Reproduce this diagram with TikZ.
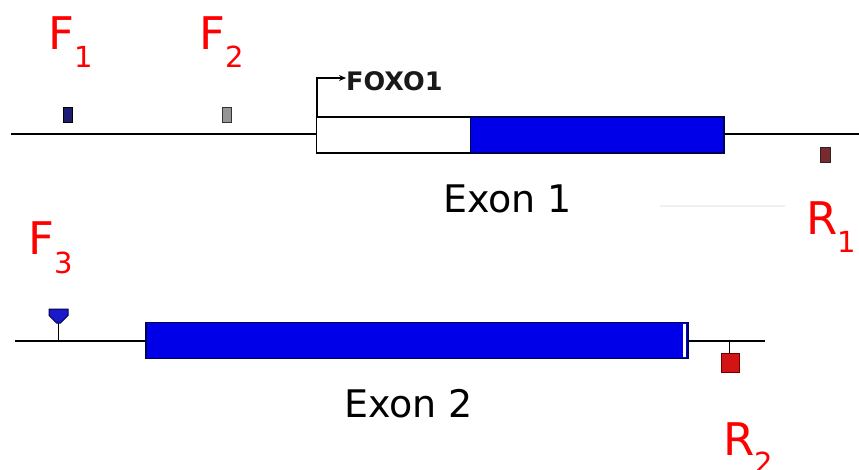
\documentclass[tikz,border=0pt]{standalone}
\usepackage{fontspec}
\setmainfont{DejaVu Sans}
\usetikzlibrary{arrows.meta}
\definecolor{exonblue}{HTML}{0000E8}
\definecolor{exonedge}{HTML}{000050}
\definecolor{fone}{HTML}{1C1C70}
\definecolor{ftwo}{HTML}{959595}
\definecolor{rone}{HTML}{7A2A2E}
\definecolor{fthree}{HTML}{1A1AC8}
\definecolor{rtwo}{HTML}{D41414}
\definecolor{rtwoedge}{HTML}{6A0000}
\begin{document}
\begin{tikzpicture}[x=1pt,y=-1pt,
  backbone/.style={draw=black,line width=1.9pt},
  exon/.style={draw=exonedge,line width=1.3pt,fill=exonblue},
  utr/.style={draw=black,line width=1.3pt,fill=white},
  probe/.style={line width=1pt},
  stem/.style={draw=black,line width=1.3pt},
  primerlbl/.style={anchor=base west,inner sep=0pt,text=red,font=\fontsize{45}{50}\selectfont},
  exonlbl/.style={anchor=base west,inner sep=0pt,text=black,font=\fontsize{38}{42}\selectfont},
  genelbl/.style={anchor=base west,inner sep=0pt,text=black!90,font=\bfseries\fontsize{25.5}{28}\selectfont}]
\newcommand\primersub[1]{\lower18pt\hbox{\fontsize{29}{30}\selectfont #1}}
\useasboundingbox (0,0) rectangle (859,470);

% ---------- exon 1 ----------
\coordinate (l1a) at (11,134);
\coordinate (l1b) at (859,134);
\draw[backbone] (l1a) -- (316,134);
\draw[backbone] (724,134) -- (l1b);
\draw[utr] (316.5,117) rectangle (470.5,153);
\draw[exon] (470.5,117) rectangle (724,153);
% transcription start
\coordinate (tss) at (317,117);
\coordinate (tsstop) at (317,78);
\coordinate (tsstip) at (346,78);
\draw[line width=1.3pt,-{Stealth[length=7pt,width=6pt]}] (tss) -- (tsstop) -- (tsstip);
\node[genelbl] (gene) at (346,91) {FOXO1};
\node[exonlbl] (ex1) at (443,213) {Exon 1};

% primer marks, row 1
\draw[probe,draw=black,fill=fone] (63.5,107.5) rectangle (72.5,122.5);
\draw[probe,draw=black!80,fill=ftwo] (222.5,107.5) rectangle (231,122.5);
\draw[probe,draw=black!85,fill=rone] (820.5,148) rectangle (830.5,163);
\draw[line width=2pt,draw=black!6] (660,206) -- (785,206);

\node[primerlbl] (f1) at (48,50) {F\primersub{1}};
\node[primerlbl] (f2) at (199,50) {F\primersub{2}};
\node[primerlbl] (r1) at (806,235) {R\primersub{1}};

% ---------- exon 2 ----------
\coordinate (l2a) at (15,341);
\coordinate (l2b) at (765,341);
\draw[backbone] (l2a) -- (146,341);
\draw[backbone] (688,341) -- (l2b);
\draw[exon] (146,322.5) rectangle (688,358.5);
\fill[white] (683.2,324) rectangle (685.8,357);
\node[exonlbl] (ex2) at (344,417) {Exon 2};

% forward primer 3: pin above the line
\draw[stem] (58.5,341) -- (58.5,322);
\draw[probe,draw=exonedge,fill=fthree,line join=round]
  (49,309) -- (68,309) -- (68,315.5) -- (60.5,323) -- (56.5,323) -- (49,315.5) -- cycle;
% reverse primer 2: pin below the line
\draw[stem] (729.5,341) -- (729.5,354);
\draw[probe,draw=rtwoedge,fill=rtwo] (721,353.5) rectangle (739,372);

\node[primerlbl] (f3) at (28,255) {F\primersub{3}};
\node[primerlbl] (r2) at (723,455) {R\primersub{2}};
\end{tikzpicture}
\end{document}
